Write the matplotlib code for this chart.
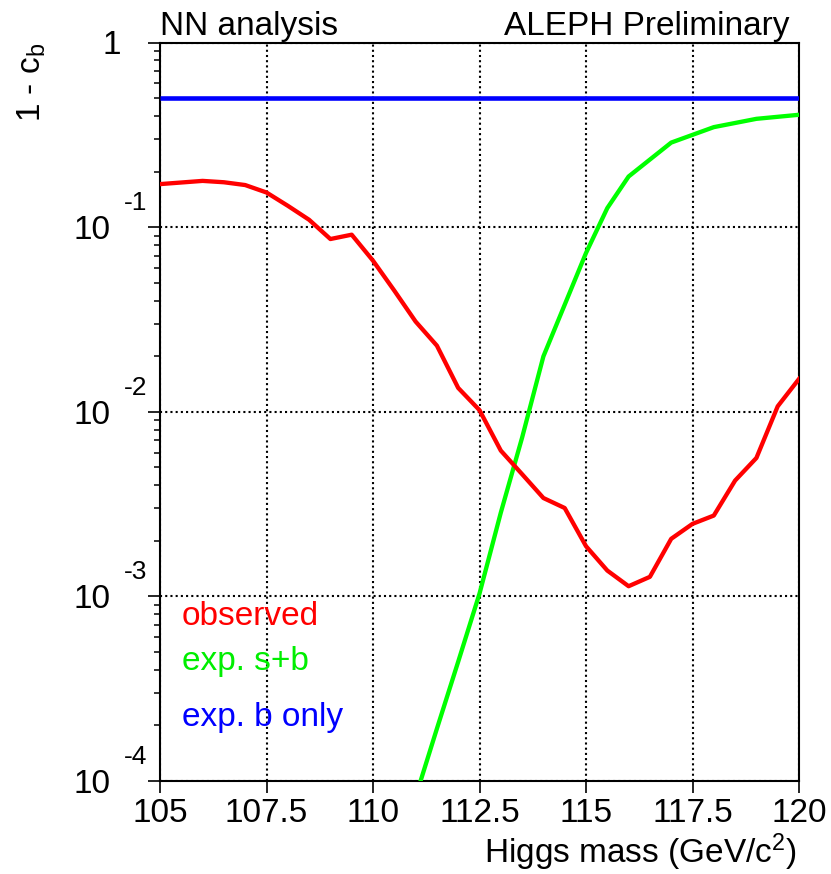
import matplotlib
matplotlib.use("Agg")
import matplotlib.pyplot as plt
from matplotlib.ticker import LogLocator, NullFormatter, FixedLocator
from matplotlib.transforms import ScaledTranslation

plt.rcParams['font.family'] = ['Liberation Sans', 'DejaVu Sans']
plt.rcParams['mathtext.fontset'] = 'custom'
plt.rcParams['mathtext.rm'] = 'Liberation Sans'
plt.rcParams['mathtext.it'] = 'Liberation Sans:italic'
plt.rcParams['mathtext.bf'] = 'Liberation Sans:bold'

# ---- data ----
obs_mass = [105, 106, 106.5, 107, 107.5, 108, 108.5, 109, 109.5, 110, 110.5, 111, 111.5,
            112, 112.5, 113, 113.5, 114, 114.5, 115, 115.5, 116, 116.5, 117, 117.5,
            118, 118.5, 119, 119.5, 120]
obs_val = [0.171, 0.178, 0.175, 0.169, 0.154, 0.1305, 0.1096, 0.0862, 0.091, 0.0658, 0.0453,
           0.0308, 0.0228, 0.01346, 0.0102, 0.00616, 0.00459, 0.00341, 0.00301, 0.00187,
           0.00138, 0.001135, 0.001276, 0.00205, 0.00247, 0.00274, 0.00424, 0.00562,
           0.0107, 0.01506]

sb_mass = [111, 111.5, 112, 112.5, 113, 113.5, 114, 114.5, 115, 115.5, 116, 117, 118, 119, 120]
sb_val = [8.2e-5, 1.92e-4, 4.43e-4, 1.035e-3, 2.84e-3, 7.24e-3, 0.01995, 0.038, 0.0724,
          0.1268, 0.188, 0.287, 0.348, 0.386, 0.406]

b_mass = [105, 120]
b_val = [0.5, 0.5]

x_ticks = [105, 107.5, 110, 112.5, 115, 117.5, 120]
x_ticklabels = ['105', '107.5', '110', '112.5', '115', '117.5', '120']
y_ticks = [1e-4, 1e-3, 1e-2, 1e-1, 1]
y_ticklabels = ['10', '10', '10', '10', '1']
y_exponents = ['-4', '-3', '-2', '-1']

# ---- figure ----
W, H = 831, 874
fig = plt.figure(figsize=(W / 100, H / 100), dpi=100)
L, R, T, B = 160, 799, 42.5, 781
ax = fig.add_axes([L / W, 1 - B / H, (R - L) / W, (B - T) / H])

ax.plot(b_mass, b_val, color='#0000ff', lw=3.3, solid_capstyle='butt', zorder=3)
ax.plot(sb_mass, sb_val, color='#00ff00', lw=3.1, zorder=3)
ax.plot(obs_mass, obs_val, color='#ff0000', lw=3.1, zorder=4)

ax.set_yscale('log')
ax.set_xlim(105, 120)
ax.set_ylim(1e-4, 1)

ax.set_xticks(x_ticks)
ax.set_xticklabels(x_ticklabels)
ax.set_yticks(y_ticks)
ax.set_yticklabels(y_ticklabels)
ax.yaxis.set_minor_locator(LogLocator(base=10, subs=range(2, 10)))
ax.yaxis.set_minor_formatter(NullFormatter())
ax.xaxis.set_minor_locator(FixedLocator([]))

ax.tick_params(axis='y', which='major', direction='out', length=8.6, width=1.2,
               labelsize=24, pad=27)
ax.tick_params(axis='y', which='minor', direction='out', length=4.3, width=1.1)
ax.tick_params(axis='x', which='major', direction='out', length=8.6, width=1.2,
               labelsize=24, pad=4)

for sp in ax.spines.values():
    sp.set_linewidth(1.5)
    sp.set_color('black')

ax.grid(True, which='major', color='black', linestyle=(0, (1, 1.5)), linewidth=1.5)
ax.set_axisbelow(False)

# shift the "1" label a little right like the reference
lab = ax.get_yticklabels()[-1]
lab.set_transform(lab.get_transform() + ScaledTranslation(10 / 100, 0, fig.dpi_scale_trans))

# exponents
for yv, e in zip(y_ticks[:-1], y_exponents):
    ax.annotate(e, xy=(0, yv), xycoords=('axes fraction', 'data'),
                xytext=(-9.4, 12.2), textcoords='offset points',
                ha='right', va='baseline', fontsize=19)

# titles
fig.text(L / W, 1 - 35 / H, 'NN analysis', fontsize=24, ha='left', va='baseline')
fig.text(789 / W, 1 - 35 / H, 'ALEPH Preliminary', fontsize=24, ha='right', va='baseline')

# axis labels
fig.text(797 / W, 1 - 863 / H, r'Higgs mass (GeV/c$^2$)', fontsize=24,
         ha='right', va='baseline')
fig.text(48 / W, 1 - 43 / H, r'1 - c$_\mathrm{b}$', fontsize=24, rotation=90,
         ha='right', va='top')

# legend texts
ax.text(0.0344, 0.211, 'observed', color='#ff0000', fontsize=24,
        transform=ax.transAxes, ha='left', va='baseline')
ax.text(0.0344, 0.150, 'exp. s+b', color='#00ee00', fontsize=24,
        transform=ax.transAxes, ha='left', va='baseline')
ax.text(0.0344, 0.0745, 'exp. b only', color='#0000ff', fontsize=24,
        transform=ax.transAxes, ha='left', va='baseline')

fig.savefig('out.png', dpi=100)
